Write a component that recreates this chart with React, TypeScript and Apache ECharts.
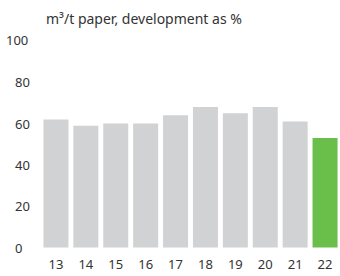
import React, { useEffect, useRef } from "react";
import * as echarts from "echarts";

const categories = ["13", "14", "15", "16", "17", "18", "19", "20", "21", "22"];
const values = [62, 59, 60, 60, 64, 68, 65, 68, 61, 53];
const yTicks = [0, 20, 40, 60, 80, 100];
const subtitle = "m³/t paper, development as %";

const GRAY = "#d1d2d4";
const GREEN = "#6abf4b";
const TEXT = "#333333";
const FONT = "'Noto Sans', sans-serif";

export default function App() {
  const ref = useRef<HTMLDivElement>(null);
  useEffect(() => {
    if (!ref.current) return;
    const chart = echarts.init(ref.current, undefined, { renderer: "svg" });
    chart.setOption({
      animation: false,
      textStyle: { fontFamily: FONT },
      title: {
        text: subtitle,
        left: 41,
        top: 6,
        textStyle: { fontFamily: FONT, fontSize: 14, fontWeight: "normal", color: TEXT },
      },
      grid: { left: 41, right: -6, top: 41, bottom: 28.5, containLabel: false },
      xAxis: {
        type: "category",
        data: categories,
        axisLine: { show: false },
        axisTick: { show: false },
        axisLabel: { color: TEXT, fontSize: 13, fontFamily: FONT, margin: 10 },
      },
      yAxis: {
        type: "value",
        min: yTicks[0],
        max: yTicks[yTicks.length - 1],
        interval: 20,
        splitLine: { show: false },
        axisLine: { show: false },
        axisTick: { show: false },
        axisLabel: {
          color: TEXT,
          fontSize: 13,
          fontFamily: FONT,
          align: "left",
          margin: 26,
          formatter: (v: number) => (v === 100 ? "" : String(v)),
        },
      },
      graphic: [
        {
          type: "text",
          left: 6,
          top: 33,
          style: { text: String(yTicks[5]), fill: TEXT, fontSize: 13, fontFamily: FONT },
        },
      ],
      series: [
        {
          type: "bar",
          barWidth: 25,
          data: values.map((v, i) => ({
            value: v,
            itemStyle: { color: i === values.length - 1 ? GREEN : GRAY },
          })),
        },
      ],
    });
    return () => chart.dispose();
  }, []);
  return <div ref={ref} style={{ width: 340, height: 276, position: "absolute", left: 0, top: 0 }} />;
}
